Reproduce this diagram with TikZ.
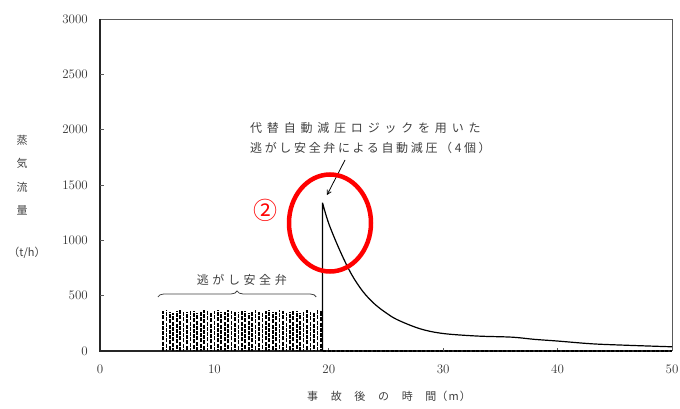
\documentclass[tikz,border=0pt]{standalone}
\usepackage{fontspec}
\newfontfamily\jpfont{Noto Sans CJK JP}
\usetikzlibrary{arrows,decorations.pathreplacing}

\begin{document}
\begin{tikzpicture}[x=1pt,y=1pt]
\tikzset{axis/.style = {line width=1.3pt,black!85}}
\tikzset{frame/.style = {line width=0.7pt,black!65}}
\tikzset{ticklab/.style = {font=\fontsize{13}{15}\selectfont,inner sep=0pt,black!80}}
\tikzset{jplab/.style = {font=\jpfont\fontsize{11}{13}\selectfont,inner sep=0pt,black!75}}
\tikzset{flow/.style = {line width=1.2pt}}
\tikzset{srv/.style = {line width=1.7pt,dash pattern=on 4pt off 1.3pt}}
\useasboundingbox (0,0) rectangle (680,408);

% y axis title
\node[jplab] (yt1) at (22,268) {蒸};
\node[jplab] (yt2) at (22,245) {気};
\node[jplab] (yt3) at (22,221) {流};
\node[jplab] (yt4) at (22,198) {量};
\node[jplab,font=\jpfont\fontsize{11}{13}\selectfont] (yunit) at (27,155) {（t/h）};

% x axis title
\node[jplab,anchor=west] (xt) at (307,12)
  {{\addfontfeature{LetterSpace=115}事故後の時間}{\addfontfeature{LetterSpace=10}（m）}};

\begin{scope}[shift={(100,57)},x=11.44pt,y=0.1107pt]
\draw[frame] (0,3000) -- (50,3000) -- (50,0);
\draw[axis] (0,3000) -- (0,0) -- (50,0);
\foreach \y in {0,500,...,3000}
  \node[ticklab,anchor=east] (yl\y) at ([xshift=-12pt]0,\y) {\y};
\foreach \y in {500,1000,...,2500}
  \draw[frame] (0,\y) -- ++(4pt,0);
\foreach \x in {0,10,...,50}
  \node[ticklab] (xl\x) at ([yshift=-18pt]\x,0) {\x};
\foreach \x in {10,20,...,40}
  \draw[frame] (\x,0) -- ++(0,3pt);

% safety valves
\foreach \i in {0,...,46} {
  \pgfmathsetmacro{\bx}{5.5+0.3*\i}
  \pgfmathsetmacro{\bh}{358+12*sin(\i*97)}
  \pgfmathsetmacro{\bp}{mod(\i*7,5)}
  \draw[srv,dash phase=\bp pt] (\bx,0) -- (\bx,\bh);
}
\draw[srv,line width=1.5pt,dash pattern=on 3pt off 1.5pt] (19.5,0) -- (50,0);

% flow after depressurization
\draw[flow] (19.45,0) -- (19.45,1340) plot[smooth,tension=0.55] coordinates {
  (19.45,1340) (20,1150) (21,900) (22,690) (23,535) (24,425) (25,345) (26,282)
  (28,200) (30,158) (33,135) (36,125) (38,105) (40,90) (43,65) (46,52) (50,38)};

\coordinate (bl) at (5.06,488);
\coordinate (br) at (18.9,488);
\draw[line width=0.8pt,black!75,decorate,decoration={brace,amplitude=6pt}] (bl) -- (br);
\node[jplab,font=\jpfont\fontsize{12}{14}\selectfont\addfontfeature{LetterSpace=30}] (srvlab) at (12.4,640) {逃がし安全弁};
\end{scope}

\node[jplab,font=\jpfont\fontsize{12}{20}\selectfont,anchor=west,align=left] (anno) at (250,270)
  {{\addfontfeature{LetterSpace=40}代替自動減圧ロジックを用いた}\\
   {\addfontfeature{LetterSpace=22}逃がし安全弁による自動減圧（4個）}};
\coordinate (arrtail) at (345,248);
\coordinate (peak) at (327,213);
\draw[->,>=angle 60,line width=0.8pt] (arrtail) -- (peak);

\draw[red,line width=4.5pt] (330,185) ellipse (41 and 48.5);
\node[red,inner sep=0pt,font=\jpfont\fontsize{24}{26}\selectfont] (num2) at (265,198) {②};
\end{tikzpicture}
\end{document}
